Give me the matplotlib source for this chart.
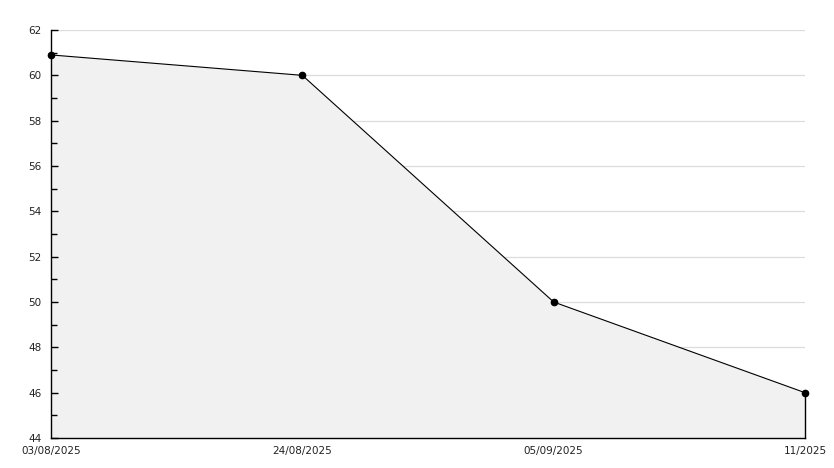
import matplotlib.pyplot as plt
import numpy as np

dates = ['03/08/2025', '24/08/2025', '05/09/2025', '11/2025']
values = [60.9, 60.0, 50.0, 46.0]
y_ticks = [44, 46, 48, 50, 52, 54, 56, 58, 60, 62]

fig = plt.figure(figsize=(8.34, 4.68), dpi=100)
ax = fig.add_axes([51 / 834, 30 / 468, 754 / 834, 408 / 468])

x = np.arange(len(values))
ymin, ymax = y_ticks[0], y_ticks[-1]

ax.fill_between(x, values, ymin, color='#f1f1f1', linewidth=0, zorder=1)
ax.plot(x, values, color='black', linewidth=0.8, zorder=3)
ax.plot([x[-1], x[-1]], [ymin, values[-1]], color='black', linewidth=1,
        zorder=3, clip_on=False)
ax.plot(x, values, linestyle='none', marker='s', markersize=3.5, color='black',
        zorder=4, clip_on=False)
ax.plot(x, values, linestyle='none', marker='o', markersize=4.5, color='black',
        zorder=4, clip_on=False)

ax.set_xlim(x[0], x[-1])
ax.set_ylim(ymin, ymax)
ax.set_yticks(y_ticks)
ax.set_yticks(np.arange(ymin + 1, ymax, 2), minor=True)
ax.set_xticks(x)
ax.set_xticklabels(dates)

for y in y_ticks[1:]:
    ax.axhline(y, color='#dcdcdc', linewidth=0.9, zorder=0)

for s in ['top', 'right']:
    ax.spines[s].set_visible(False)
for s in ['left', 'bottom']:
    ax.spines[s].set_linewidth(1.0)
    ax.spines[s].set_zorder(5)

ax.tick_params(axis='y', which='major', direction='in', length=5, width=1,
               labelsize=7.5, pad=7, labelcolor='#222222')
ax.tick_params(axis='y', which='minor', direction='in', length=4, width=1)
ax.tick_params(axis='x', length=0, labelsize=7.5, pad=6, labelcolor='#222222')

fig.savefig('out.png', dpi=100)
